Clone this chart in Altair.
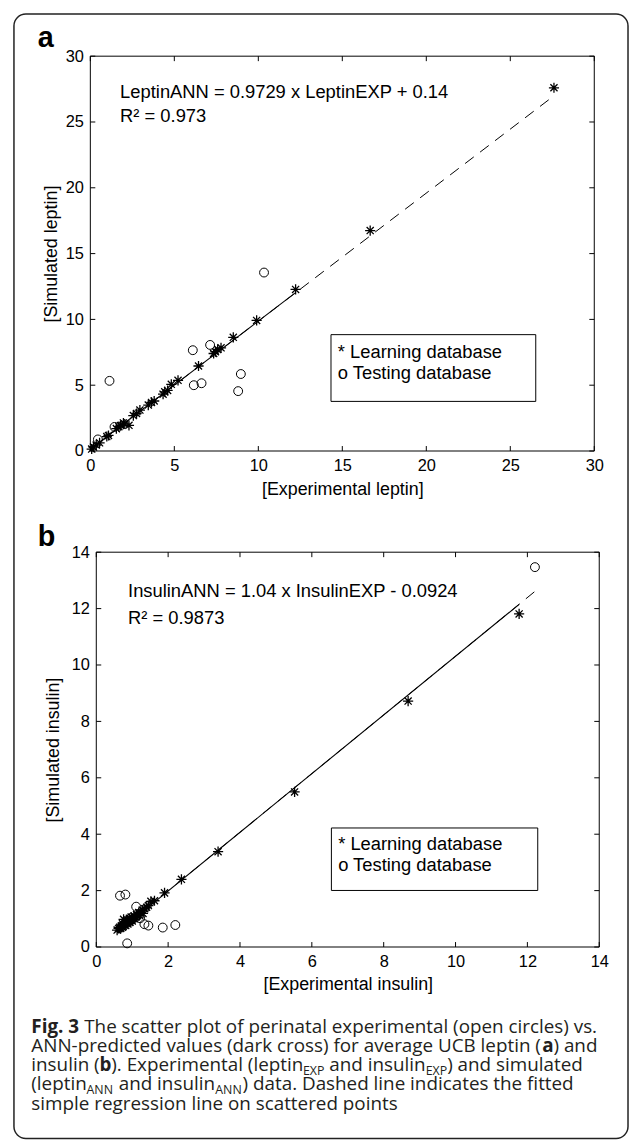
import altair as alt
import pandas as pd

# ---------------- data ----------------
a_learn_x = [0.08, 0.19, 0.35, 0.55, 0.98, 1.08, 1.55, 1.70, 1.80, 1.97, 2.05, 2.30, 2.56, 2.75, 2.95,
             3.45, 3.64, 3.80, 4.33, 4.43, 4.60, 4.82, 5.22, 6.44, 7.34, 7.45, 7.58, 7.78, 8.51, 9.90,
             12.22, 16.66, 27.60]
a_learn_y = [0.15, 0.30, 0.45, 0.62, 1.10, 1.18, 1.70, 1.85, 1.93, 2.13, 2.05, 1.95, 2.69, 2.85, 3.11,
             3.49, 3.69, 3.80, 4.32, 4.50, 4.60, 5.07, 5.37, 6.46, 7.41, 7.55, 7.71, 7.84, 8.64, 9.92,
             12.28, 16.75, 27.60]
a_test_x = [0.45, 1.14, 1.44, 6.10, 6.16, 6.62, 7.13, 8.80, 8.96, 10.34]
a_test_y = [0.88, 5.33, 1.83, 7.66, 5.00, 5.15, 8.06, 4.55, 5.85, 13.56]
a_fit_x = [0.0, 27.6]
a_fit_y = [0.14, 26.99]
a_solid_x = [0.0, 12.22]
a_solid_y = [0.14, 12.03]
a_ticks = [0, 5, 10, 15, 20, 25, 30]

b_learn_x = [0.58, 0.62, 0.65, 0.68, 0.70, 0.72, 0.73, 0.75, 0.76, 0.78, 0.80, 0.82, 0.83, 0.85, 0.87,
             0.88, 0.90, 0.92, 0.94, 0.95, 0.97, 0.99, 1.00, 1.02, 1.05, 1.07, 1.10, 1.12, 1.15, 1.18,
             1.20, 1.24, 1.28, 1.30, 1.35, 1.40, 1.45, 1.52, 1.62, 1.90, 2.37, 3.39, 5.52, 8.68, 11.77]
b_learn_y = [0.60, 0.66, 0.70, 0.66, 0.75, 0.70, 0.82, 0.74, 0.98, 0.80, 0.86, 0.76, 0.92, 0.84, 0.96,
             0.82, 0.90, 1.02, 0.88, 0.94, 1.06, 0.96, 0.92, 1.01, 1.09, 1.00, 1.06, 1.16, 1.11, 1.22,
             1.13, 1.21, 1.31, 1.19, 1.36, 1.41, 1.47, 1.62, 1.64, 1.92, 2.40, 3.38, 5.50, 8.72, 11.81]
b_test_x = [0.66, 0.81, 0.86, 1.11, 1.22, 1.34, 1.45, 1.85, 2.20, 12.21]
b_test_y = [1.82, 1.86, 0.13, 1.43, 1.02, 0.81, 0.76, 0.69, 0.78, 13.47]
b_fit_x = [0.58, 12.2]
b_fit_y = [0.51, 12.6]
b_solid_x = [0.58, 11.77]
b_solid_y = [0.51, 12.15]
b_ticks = [0, 2, 4, 6, 8, 10, 12, 14]

a_eq = "LeptinANN = 0.9729 x LeptinEXP + 0.14"
a_r2 = "R\u00b2 = 0.973"
b_eq = "InsulinANN = 1.04 x InsulinEXP - 0.0924"
b_r2 = "R\u00b2 = 0.9873"
legend_lines = ["* Learning database", "o Testing database"]

caption_lines = [
    [("Fig. 3", "bold"), (" The scatter plot of perinatal experimental (open circles) vs.", "reg")],
    [("ANN-predicted values (dark cross) for average UCB leptin (", "reg"), ("a", "bold"), (") and", "reg")],
    [("insulin (", "reg"), ("b", "bold"), ("). Experimental (leptin", "reg"), ("EXP", "sub"),
     (" and insulin", "reg"), ("EXP", "sub"), (") and simulated", "reg")],
    [("(leptin", "reg"), ("ANN", "sub"), (" and insulin", "reg"), ("ANN", "sub"),
     (") data. Dashed line indicates the fitted", "reg")],
    [("simple regression line on scattered points", "reg")],
]

# ---------------- style / layout ----------------
FONT = "Liberation Sans"
CFONT = "Open Sans"
H = 398
WA = 508
WB = 513
BOFF = 6
TICK = 5
STAR = "M-1,0L1,0M0,-1L0,1M-0.7,-0.7L0.7,0.7M-0.7,0.7L0.7,-0.7"

one = pd.DataFrame({"k": [0]})

REG_W = {' ': .260, '(': .280, ')': .280, '.': .266, '-': .322, ',': .246,
         'a': .556, 'b': .613, 'c': .476, 'd': .613, 'e': .561, 'f': .339, 'g': .541, 'h': .614,
         'i': .253, 'k': .525, 'l': .253, 'm': .930, 'n': .614, 'o': .604, 'p': .613, 'r': .408,
         's': .477, 't': .353, 'u': .614, 'v': .501, 'w': .778, 'x': .524, 'y': .502,
         'A': .633, 'B': .648, 'C': .631, 'D': .729, 'E': .549, 'N': .785, 'P': .603, 'U': .742,
         'X': .575, 'T': .553, 'F': .501, '3': .572}
BOLD_W = {'F': .575, 'i': .297, 'g': .558, '.': .286, ' ': .260, '3': .572, 'a': .598, 'b': .623}


def text_w(s, style, size):
    table = BOLD_W if style == "bold" else REG_W
    return sum(table.get(ch, 0.55) for ch in s) * size


def txt(s, x, y, size, weight="normal", font=FONT, color="black", align="left"):
    return alt.Chart(one).mark_text(
        text=s, align=align, baseline="alphabetic", font=font, fontSize=size,
        fontWeight=weight, color=color
    ).encode(x=alt.value(x), y=alt.value(y))


def panel(lx, ly, tx, ty, fx, fy, sx, sy, ticks, dom, W, x0, xtitle, ytitle, ytitle_x, xtitle_y,
          eq, r2, eq_pos, leg_box, leg_txt, letter, letter_pos, extra):
    xs = alt.Scale(domain=[0, dom], range=[x0, W], nice=False, zero=False)
    ys = alt.Scale(domain=[0, dom], nice=False, zero=False)
    xaxis = alt.Axis(values=ticks, ticks=False, tickSize=0, domain=False, grid=False,
                     labelFont=FONT, labelFontSize=16.5, labelColor="black", labelPadding=7,
                     labelFlush=False, labelOverlap=False,
                     title=xtitle, titleFont=FONT, titleFontSize=18, titleFontWeight="normal",
                     titleColor="black", titleX=(x0 + W) / 2, titleY=xtitle_y,
                     titleBaseline="middle", titleAlign="center")
    yaxis = alt.Axis(values=ticks, ticks=False, tickSize=0, domain=False, grid=False,
                     labelFont=FONT, labelFontSize=16.5, labelColor="black", labelPadding=7,
                     labelFlush=False, labelOverlap=False, offset=-x0,
                     title=ytitle, titleFont=FONT, titleFontSize=18, titleFontWeight="normal",
                     titleColor="black", titleX=ytitle_x, titleY=H / 2, titleAngle=270,
                     titleBaseline="middle", titleAlign="center")

    def X(f):
        return alt.X(f, type="quantitative", scale=xs, axis=xaxis)

    def Y(f):
        return alt.Y(f, type="quantitative", scale=ys, axis=yaxis)

    tdf = pd.DataFrame({"t": ticks})
    layers = list(extra)
    # plot box
    layers.append(alt.Chart(one).mark_rect(fillOpacity=0, stroke="black", strokeWidth=1).encode(
        x=alt.value(x0), x2=alt.value(W), y=alt.value(0), y2=alt.value(H)))
    # inward ticks on four sides
    layers.append(alt.Chart(tdf).mark_rule(color="black", strokeWidth=1).encode(
        x=X("t"), y=alt.value(H), y2=alt.value(H - TICK)))
    layers.append(alt.Chart(tdf).mark_rule(color="black", strokeWidth=1).encode(
        x=X("t"), y=alt.value(0), y2=alt.value(TICK)))
    layers.append(alt.Chart(tdf).mark_rule(color="black", strokeWidth=1).encode(
        y=Y("t"), x=alt.value(x0), x2=alt.value(x0 + TICK)))
    layers.append(alt.Chart(tdf).mark_rule(color="black", strokeWidth=1).encode(
        y=Y("t"), x=alt.value(W), x2=alt.value(W - TICK)))
    # regression lines
    layers.append(alt.Chart(pd.DataFrame({"x": fx, "y": fy})).mark_line(
        color="black", strokeWidth=1, strokeDash=[11, 8]).encode(x=X("x"), y=Y("y")))
    layers.append(alt.Chart(pd.DataFrame({"x": sx, "y": sy})).mark_line(
        color="black", strokeWidth=1.1).encode(x=X("x"), y=Y("y")))
    # points
    layers.append(alt.Chart(pd.DataFrame({"x": tx, "y": ty})).mark_point(
        shape="circle", size=80, filled=False, color="black", strokeWidth=1, opacity=1).encode(
        x=X("x"), y=Y("y")))
    layers.append(alt.Chart(pd.DataFrame({"x": lx, "y": ly})).mark_point(
        shape=STAR, size=105, filled=False, color="black", strokeWidth=1.3, opacity=1).encode(
        x=X("x"), y=Y("y")))
    # annotations
    layers.append(txt(eq, eq_pos[0], eq_pos[1], 18.5))
    layers.append(txt(r2, eq_pos[0], eq_pos[2], 18.5))
    layers.append(alt.Chart(one).mark_rect(fillOpacity=0, stroke="black", strokeWidth=1).encode(
        x=alt.value(leg_box[0]), x2=alt.value(leg_box[1]),
        y=alt.value(leg_box[2]), y2=alt.value(leg_box[3])))
    layers.append(txt(legend_lines[0], leg_txt[0], leg_txt[1], 18.5))
    layers.append(txt(legend_lines[1], leg_txt[0], leg_txt[2], 18.5))
    layers.append(txt(letter, letter_pos[0], letter_pos[1], 29, weight="bold"))
    return alt.layer(*layers).properties(width=W, height=H)


# outer rounded frame (drawn in panel a coordinates)
frame = alt.Chart(one).mark_rect(fillOpacity=0, stroke="#222", strokeWidth=1.5, cornerRadius=12).encode(
    x=alt.value(-77), x2=alt.value(542), y=alt.value(-42.5), y2=alt.value(1091))

# caption (drawn in panel b coordinates); SVG drops edge spaces, so advance x for them
cap_layers = []
CAP_SIZE = 19
SUB_SIZE = 12.5
CAP_X = -59.5
CAP_Y0 = 485
CAP_LH = 19.2
for i, line in enumerate(caption_lines):
    x = CAP_X
    yb = CAP_Y0 + i * CAP_LH
    for seg, style in line:
        size = SUB_SIZE if style == "sub" else CAP_SIZE
        wstyle = "reg" if style == "sub" else style
        lead = len(seg) - len(seg.lstrip(" "))
        body = seg.strip(" ")
        trail = len(seg) - len(seg.rstrip(" "))
        x += text_w(" " * lead, wstyle, size)
        weight = "bold" if style == "bold" else "normal"
        y = yb + 4 if style == "sub" else yb
        cap_layers.append(txt(body, x, y, size, weight=weight, font=CFONT, color="#231f20"))
        x += text_w(body, wstyle, size) + text_w(" " * trail, wstyle, size)

panel_a = panel(a_learn_x, a_learn_y, a_test_x, a_test_y, a_fit_x, a_fit_y, a_solid_x, a_solid_y,
                a_ticks, 30, WA, 0, "[Experimental leptin]", "[Simulated leptin]", -39, 39,
                a_eq, a_r2, (30, 42, 66.5), (242.6, 449, 280.7, 348), (249.5, 304, 325),
                "a", (-53, -9), [frame])

panel_b = panel(b_learn_x, b_learn_y, b_test_x, b_test_y, b_fit_x, b_fit_y, b_solid_x, b_solid_y,
                b_ticks, 14, WB, BOFF, "[Experimental insulin]", "[Simulated insulin]", -43, 38,
                b_eq, b_r2, (38, 45, 72.5), (243, 451, 278, 341), (249.8, 300, 321),
                "b", (-53, -6), cap_layers)

chart = alt.vconcat(panel_a, panel_b, spacing=102, bounds="flush").properties(
    padding={"left": 5, "top": 0, "right": 0, "bottom": 0}, background="white"
).configure_view(stroke=None)

chart.save("out.html", embed_options={"renderer": "svg", "actions": False})
